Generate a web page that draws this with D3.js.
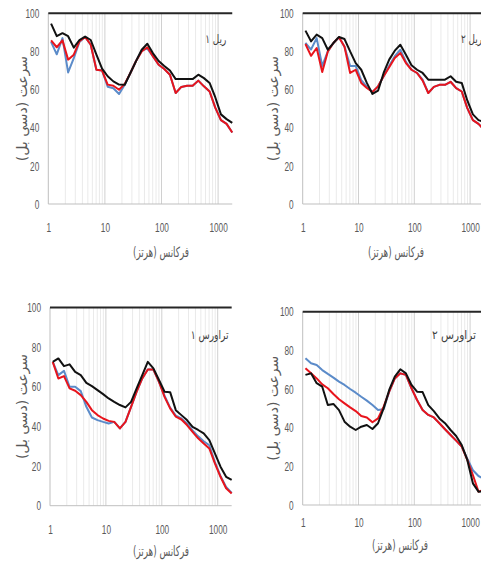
<!DOCTYPE html>
<html>
<head>
<meta charset="utf-8">
<script src="https://cdn.jsdelivr.net/npm/d3@7/dist/d3.min.js"></script>
<style>
  body { margin: 0; background: #fff; }
  svg { display: block; }
</style>
</head>
<body>
<div id="chart"></div>
<script>
// فرکانس ها (هرتز)
var freq = [1.12, 1.41, 1.78, 2.24, 2.82, 3.55, 4.47, 5.62, 7.08, 8.91,
            11.2, 14.1, 17.8, 22.4, 28.2, 35.5, 44.7, 56.2, 70.8, 89.1,
            112, 141, 178, 224, 282, 355, 447, 562, 708, 891,
            1122, 1413, 1778];

var yTicks = [0, 20, 40, 60, 80, 100];
var xTicks = [1, 10, 100, 1000];
var xTitle = "فرکانس (هرتز)";
var yTitle = "سرعت (دسی بل)";
var panelNames = ["ریل ۱", "ریل ۲", "تراورس ۱", "تراورس ۲"];

// ریل ۱
var rail1Blue  = [85, 78.5, 87, 69, 76.5, 85, 87.6, 83.5, 70.4, 70, 61.5, 60.7, 57.7, 62.5, 68.7, 75, 80.5, 81.5, 77.4, 73, 70.8, 67.8, 58.2, 61.4, 62, 62, 64.7, 61.7, 59, 50.5, 44, 42, 37.5];
var rail1Red   = [85.8, 82.2, 85.8, 75.7, 78.3, 85.3, 87.6, 83.5, 70.4, 70, 62.6, 62, 59.9, 63, 68.7, 75, 80, 82.2, 77.4, 73, 70.8, 67.8, 58.2, 61.4, 62, 62, 64.7, 61.7, 59, 50.5, 44, 42, 37.5];
var rail1Black = [94.6, 88, 89.6, 88, 82, 86, 87.8, 86, 78.3, 71, 67, 64.3, 62.6, 62.5, 68.7, 74.9, 80.9, 84, 79, 75, 72.4, 70, 65.5, 65.5, 65.5, 65.5, 67.8, 66, 63.5, 56, 47, 44.5, 42.5];

// ریل ۲
var rail2Blue  = [84.5, 81, 87, 72.4, 80, 84.4, 87.4, 82.4, 72.4, 72.4, 65, 61.5, 58.7, 61.7, 67, 72.5, 77.5, 80.9, 74.5, 70.4, 68.7, 65.2, 58.2, 61.4, 62.5, 62.5, 64.1, 60.8, 59, 50.3, 44, 42, 39];
var rail2Red   = [83.9, 77.7, 81.8, 69.2, 80, 84.4, 87.4, 82.4, 68.7, 70.4, 63.5, 60.8, 58.7, 61.7, 67, 71.7, 76.6, 79.2, 73.9, 70.4, 68.7, 64.7, 58.2, 61.4, 62.5, 62.5, 64.1, 60.8, 59, 50.3, 44, 42, 39];
var rail2Black = [90.9, 85.3, 88.8, 87, 80.9, 84.4, 87.6, 86.5, 80, 73.9, 70.4, 63.5, 57.7, 59.4, 68.7, 75.7, 80.4, 83.5, 78.3, 72.8, 70.4, 68.7, 65.2, 65.2, 65.2, 65.2, 67, 64.1, 63.5, 54.3, 47, 44, 43];

// تراورس ۱
var sleeper1Blue  = [72.6, 65.9, 68, 60, 60, 57.8, 49.9, 44.5, 43.2, 42.3, 41.5, 42.3, 39, 42.3, 49.9, 57.5, 64.2, 68.7, 68.7, 62.5, 55.5, 49.5, 45.5, 44, 41.5, 38, 35, 32.5, 30.5, 22, 15, 9.5, 6.5];
var sleeper1Red   = [72.6, 64.2, 65.4, 59.2, 58, 55.8, 52.4, 48.2, 45.7, 44, 42.8, 42.3, 39, 42.3, 49.9, 57.5, 64.2, 68.7, 68.7, 62.5, 54.9, 49.1, 44.9, 43.5, 40.7, 37.3, 34, 31.4, 28.9, 21.4, 14.6, 8.8, 6.2];
var sleeper1Black = [72.6, 74.3, 70.4, 71.3, 67.5, 65.9, 62, 60.3, 58.3, 56.3, 54.1, 52.4, 50.8, 49.6, 52.4, 59.2, 65.9, 72.6, 69.3, 63.4, 57.5, 57.3, 48.2, 45.7, 43.2, 39.8, 38.2, 36.5, 33.1, 26.4, 19.7, 14.6, 13];

// تراورس ۲
var sleeper2Blue  = [75.9, 73.3, 72.4, 69.8, 67.8, 65.9, 63.8, 62.1, 60, 58.1, 56, 54, 51.7, 49.1, 49.5, 58.6, 65.5, 68.1, 67.3, 60.4, 54.3, 49.1, 46.6, 45.3, 42.3, 39.2, 36.2, 33.3, 30.2, 24, 18, 15, 13.5];
var sleeper2Red   = [70.7, 68.1, 65.5, 62.4, 60.4, 57.4, 54.7, 52.6, 50.5, 48.6, 46, 45.3, 42.8, 44.8, 50.9, 58.6, 65.5, 68.1, 67.3, 60.4, 54.3, 49.1, 46.6, 45.3, 42.3, 39.2, 36.2, 33.3, 30.2, 23.3, 15.5, 6.9, 8];
var sleeper2Black = [67.3, 68.1, 63, 61.2, 51.7, 52.3, 49.1, 43.1, 40.5, 38.8, 40.5, 41.4, 39.3, 42.3, 50, 59.5, 66.4, 70.2, 68.1, 62.1, 58.6, 58.4, 51.7, 48.6, 44.8, 42.3, 38.8, 35.7, 31, 23.3, 11.2, 6.9, 7];

var W = 481, H = 566;
var numFont = "'Liberation Sans', Arial, sans-serif";
var faFont = "'DejaVu Sans', sans-serif";

var svg = d3.select("#chart").append("svg")
  .attr("width", W).attr("height", H)
  .style("background", "#fff");

// جای هر نمودار
var panels = [
  {name: panelNames[0], blue: rail1Blue, red: rail1Red, black: rail1Black,
   left: 48.3, decade: 56.6, top: 13.3, bottom: 204, xLabY: 228, xTitleX: 161, xTitleY: 257, yTitleX: 22,
   nameLen: 21, nameInset: 6, nameY: 43},
  {name: panelNames[1], blue: rail2Blue, red: rail2Red, black: rail2Black,
   left: 302.7, decade: 55.8, top: 13.3, bottom: 204, xLabY: 228, xTitleX: 396, xTitleY: 257, yTitleX: 273,
   nameLen: 21, nameInset: 2, nameY: 43},
  {name: panelNames[2], blue: sleeper1Blue, red: sleeper1Red, black: sleeper1Black,
   left: 50, decade: 55.9, top: 307.5, bottom: 505.7, xLabY: 530, xTitleX: 161, xTitleY: 556, yTitleX: 22,
   nameLen: 38, nameInset: 3, nameY: 339},
  {name: panelNames[3], blue: sleeper2Blue, red: sleeper2Red, black: sleeper2Black,
   left: 302.7, decade: 55.8, top: 311.7, bottom: 505, xLabY: 523, xTitleX: 400, xTitleY: 550, yTitleX: 273,
   nameLen: 44, nameInset: 8, nameY: 339}
];

// اعداد محور باریک و بلند
function narrow(sel) {
  sel.style("font-family", numFont).style("font-size", "13px").style("fill", "#595959")
    .attr("lengthAdjust", "spacingAndGlyphs")
    .attr("textLength", function() { return this.textContent.length * 4.6; });
}

panels.forEach(function(p) {
  var xMax = freq[freq.length - 1];
  var right = p.left + p.decade * Math.log10(xMax);
  var x = d3.scaleLog().domain([1, xMax]).range([p.left, right]);
  var y = d3.scaleLinear().domain([0, 100]).range([p.bottom, p.top]);
  var g = svg.append("g");

  // خطوط شبکه عمودی
  g.selectAll("line.grid")
    .data(x.ticks().filter(function(d) { return d > 1 && d <= xMax; }))
    .enter().append("line")
      .attr("x1", function(d) { return x(d); })
      .attr("x2", function(d) { return x(d); })
      .attr("y1", p.top).attr("y2", p.bottom)
      .style("stroke", function(d) {
        var l = Math.log10(d);
        return Math.abs(l - Math.round(l)) < 1e-6 ? "#d0d0d0" : "#eaeaea";
      })
      .style("stroke-width", 1);

  // محورها
  g.append("line")
    .attr("x1", p.left).attr("x2", p.left)
    .attr("y1", p.top).attr("y2", p.bottom)
    .style("stroke", "#bfbfbf");
  g.append("line")
    .attr("x1", p.left).attr("x2", right)
    .attr("y1", p.bottom).attr("y2", p.bottom)
    .style("stroke", "#bfbfbf");
  g.append("line")
    .attr("x1", p.left).attr("x2", right)
    .attr("y1", y(100)).attr("y2", y(100))
    .style("stroke", "#262626").style("stroke-width", 2);

  var yAxis = g.append("g")
    .attr("transform", "translate(" + p.left + ",0)")
    .call(d3.axisLeft(y).tickValues(yTicks).tickSize(0).tickPadding(9));
  yAxis.select(".domain").remove();
  yAxis.selectAll("text").call(narrow);

  var xAxis = g.append("g")
    .attr("transform", "translate(0," + p.bottom + ")")
    .call(d3.axisBottom(x).tickValues(xTicks).tickSize(0)
      .tickFormat(d3.format("d"))
      .tickPadding(p.xLabY - p.bottom - 5));
  xAxis.select(".domain").remove();
  xAxis.selectAll("text").call(narrow);

  // خطوط داده
  var line = d3.line()
    .x(function(d, i) { return x(freq[i]); })
    .y(function(d) { return y(d); });

  [[p.blue, "#5b8bc9"], [p.red, "#e8141c"], [p.black, "#111111"]].forEach(function(s) {
    g.append("path")
      .datum(s[0])
      .attr("d", line)
      .style("fill", "none")
      .style("stroke", s[1])
      .style("stroke-width", 2)
      .style("stroke-linejoin", "round");
  });

  // عنوان ها
  g.append("text")
    .attr("x", right - p.nameInset).attr("y", p.nameY)
    .attr("text-anchor", "end")
    .attr("lengthAdjust", "spacingAndGlyphs")
    .attr("textLength", p.nameLen)
    .style("font-family", faFont).style("font-size", "12px").style("fill", "#404040")
    .text(p.name);

  g.append("text")
    .attr("x", p.xTitleX).attr("y", p.xTitleY)
    .attr("text-anchor", "middle")
    .attr("lengthAdjust", "spacingAndGlyphs")
    .attr("textLength", 56)
    .style("font-family", faFont).style("font-size", "14px").style("fill", "#595959")
    .text(xTitle);

  g.append("text")
    .attr("transform", "translate(" + p.yTitleX + "," + ((p.top + p.bottom) / 2) + ") rotate(-90)")
    .attr("text-anchor", "middle")
    .attr("dy", "0.35em")
    .attr("lengthAdjust", "spacingAndGlyphs")
    .attr("textLength", 105)
    .style("font-family", faFont).style("font-size", "14px").style("fill", "#595959")
    .text(yTitle);
});
</script>
</body>
</html>
